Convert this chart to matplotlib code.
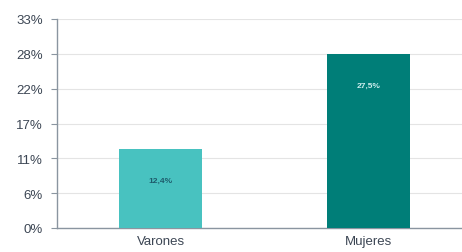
import matplotlib
matplotlib.use("Agg")
import matplotlib.pyplot as plt

categories = ["Varones", "Mujeres"]
values = [12.4, 27.5]
value_labels = ["12,4%", "27,5%"]
y_ticks = [0, 5.5, 11, 16.5, 22, 27.5, 33]
y_tick_labels = ["0%", "6%", "11%", "17%", "22%", "28%", "33%"]

bar_colors = ["#48C2C0", "#007E78"]
label_colors = ["#1E5B6B", "#CFEFEF"]

plt.rcParams["font.family"] = ["Liberation Sans", "DejaVu Sans"]

fig = plt.figure(figsize=(4.62, 2.53), dpi=100)
ax = fig.add_axes([57 / 462, 1 - 229 / 253, 1 - 57 / 462, (229 - 20) / 253])

x = list(range(len(categories)))
ax.bar(x, values, width=0.40, color=bar_colors, zorder=3)

# value labels sit a bit below the bar top
for xi, v, lab, c in zip(x, values, value_labels, label_colors):
    ax.text(xi, v - 4.9, lab, ha="center", va="center", fontsize=6,
            fontweight="bold", color=c, zorder=4)

ax.set_ylim(0, 33)
ax.set_xlim(-0.5, 1.45)
ax.set_yticks(y_ticks)
ax.set_yticklabels(y_tick_labels)
ax.set_xticks(x)
ax.set_xticklabels(categories)

ax.yaxis.grid(True, color="#E4E4E4", linewidth=0.8, zorder=0)
ax.set_axisbelow(True)

for side in ["top", "right"]:
    ax.spines[side].set_visible(False)
ax.spines["left"].set_color("#8A95A0")
ax.spines["bottom"].set_color("#8A95A0")
ax.spines["left"].set_linewidth(1.0)
ax.spines["bottom"].set_linewidth(1.0)

ax.tick_params(axis="y", length=4, color="#8A95A0", labelsize=9.5,
               labelcolor="#3C4654", pad=6)
ax.tick_params(axis="x", length=0, labelsize=9.5, labelcolor="#3C4654", pad=5)

fig.savefig("out.png", dpi=100)
